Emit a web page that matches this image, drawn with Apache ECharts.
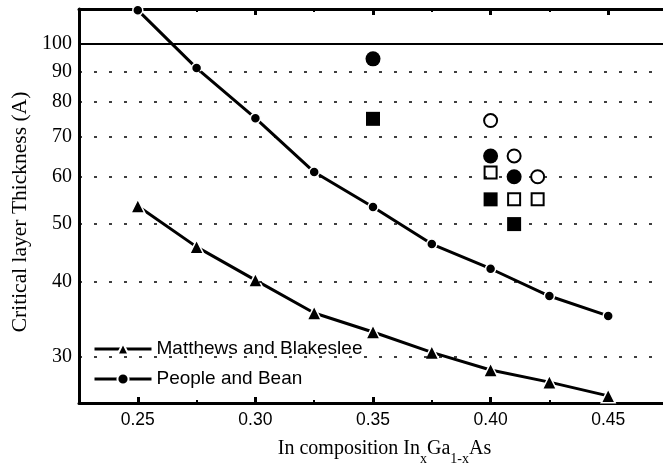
<!DOCTYPE html>
<html>
<head>
<meta charset="utf-8">
<script src="https://cdn.jsdelivr.net/npm/echarts@6/dist/echarts.min.js"></script>
<style>html,body{margin:0;padding:0;background:#fff}#c{width:663px;height:468px}</style>
</head>
<body>
<div id="c"></div>
<script>
// ---- data ----
const compositions = [0.25, 0.275, 0.30, 0.325, 0.35, 0.375, 0.40, 0.425, 0.45];
const matthewsBlakeslee = [53.6, 45.8, 40.3, 35.5, 33.0, 30.5, 28.5, 27.2, 25.8];
const peopleBean = [114, 91.2, 75.2, 61.1, 53.4, 46.3, 42.1, 37.9, 35.1];
const filledCircles = [[0.35, 94.5], [0.40, 65], [0.41, 60]];
const openCircles = [[0.40, 74.5], [0.41, 65], [0.42, 60]];
const filledSquares = [[0.35, 75], [0.40, 55], [0.41, 50]];
const openSquares = [[0.40, 61], [0.41, 55], [0.42, 55]];
const xMajorTicks = [0.25, 0.30, 0.35, 0.40, 0.45];
const xMinorTicks = [0.275, 0.325, 0.375, 0.425];
const yTicks = [30, 40, 50, 60, 70, 80, 90, 100];
const seriesNames = ['Matthews and Blakeslee', 'People and Bean'];

const X_MIN = 0.225, X_MAX = 0.475, Y_MIN = 25.1, Y_MAX = 114.5;

const chart = echarts.init(document.getElementById('c'), null, {renderer: 'canvas'});

function xAxisDef(pos, ticks, len, width, showLine, showLabel) {
  return {
    type: 'value', position: pos, min: X_MIN, max: X_MAX,
    axisLine: {show: showLine, onZero: false, lineStyle: {color: '#000', width: 3}},
    axisTick: {show: true, inside: true, length: len, customValues: ticks, lineStyle: {color: '#000', width: width}},
    axisLabel: {show: showLabel, customValues: ticks, margin: 8, color: '#000',
      fontFamily: 'Liberation Sans', fontSize: 17.5, formatter: v => Number(v).toFixed(2)},
    splitLine: {show: false}
  };
}

const gridLines = yTicks.map(v => v === 100
  ? {yAxis: v, lineStyle: {type: 'solid', width: 2, color: '#000'}}
  : {yAxis: v, lineStyle: {type: [3, 12], width: 1.5, color: '#000'}});

const lineStyleCommon = {color: '#000', width: 3};

const option = {
  animation: false,
  backgroundColor: '#fff',
  grid: {left: 79, right: -4, top: 9, bottom: 65, containLabel: false, outerBoundsMode: 'none'},
  xAxis: [
    Object.assign(xAxisDef('bottom', xMajorTicks, 6, 3, true, true), {
      name: '{n|In composition In}{s|x}{n|Ga}{s|1-x}{n|As}',
      nameLocation: 'middle', nameGap: 36,
      nameTextStyle: {padding: [0, 0, 0, 23], rich: {
        n: {fontFamily: 'Liberation Serif', fontSize: 20, color: '#000', lineHeight: 20, verticalAlign: 'top'},
        s: {fontFamily: 'Liberation Serif', fontSize: 14, color: '#000', lineHeight: 16, padding: [13, 0, 0, 0], verticalAlign: 'top'}
      }}
    }),
    xAxisDef('top', xMajorTicks, 6, 3, true, false),
    xAxisDef('bottom', xMinorTicks, 3, 2, false, false),
    xAxisDef('top', xMinorTicks, 3, 2, false, false)
  ],
  yAxis: {
    type: 'log', logBase: 10, min: Y_MIN, max: Y_MAX,
    axisLine: {show: true, onZero: false, lineStyle: {color: '#000', width: 3}},
    axisTick: {show: false, customValues: yTicks},
    axisLabel: {customValues: yTicks, margin: 7, color: '#000', fontFamily: 'Liberation Serif', fontSize: 20},
    splitLine: {show: false},
    minorTick: {show: false},
    name: 'Critical layer Thickness (A)',
    nameLocation: 'middle', nameRotate: 90, nameGap: 43,
    nameTextStyle: {fontFamily: 'Liberation Serif', fontSize: 21.5, color: '#000', padding: [0, 12, 0, 0]}
  },
  legend: {
    orient: 'vertical', left: 88, top: 333,
    itemWidth: 57, itemHeight: 14, itemGap: 8,
    data: seriesNames,
    lineStyle: {width: 3, color: '#000'},
    textStyle: {fontFamily: 'Liberation Sans', fontSize: 19, color: '#000', lineHeight: 22}
  },
  series: [
    {
      type: 'line', name: 'grid', data: [], silent: true, z: 1,
      markLine: {silent: true, symbol: 'none', label: {show: false}, animation: false, data: gridLines}
    },
    {
      type: 'line', name: seriesNames[0], z: 3, clip: false,
      data: compositions.map((x, i) => [x, matthewsBlakeslee[i]]),
      symbol: 'triangle', symbolSize: 14,
      lineStyle: lineStyleCommon,
      itemStyle: {color: '#000', borderColor: '#fff', borderWidth: 1.5}
    },
    {
      type: 'line', name: seriesNames[1], z: 3, clip: false,
      data: compositions.map((x, i) => [x, peopleBean[i]]),
      symbol: 'circle', symbolSize: 10,
      lineStyle: lineStyleCommon,
      itemStyle: {color: '#000', borderColor: '#fff', borderWidth: 1.5}
    },
    {type: 'scatter', name: 'fc', data: filledCircles, symbol: 'circle', symbolSize: 15, z: 4,
      itemStyle: {color: '#000', opacity: 1}},
    {type: 'scatter', name: 'oc', data: openCircles, symbol: 'circle', symbolSize: 13, z: 4,
      itemStyle: {color: '#fff', borderColor: '#000', borderWidth: 2, opacity: 1}},
    {type: 'scatter', name: 'fs', data: filledSquares, symbol: 'rect', symbolSize: 14, z: 4,
      itemStyle: {color: '#000', opacity: 1}},
    {type: 'scatter', name: 'os', data: openSquares, symbol: 'rect', symbolSize: 12, z: 4,
      itemStyle: {color: '#fff', borderColor: '#000', borderWidth: 2, opacity: 1}}
  ]
};
chart.setOption(option);
</script>
</body>
</html>
